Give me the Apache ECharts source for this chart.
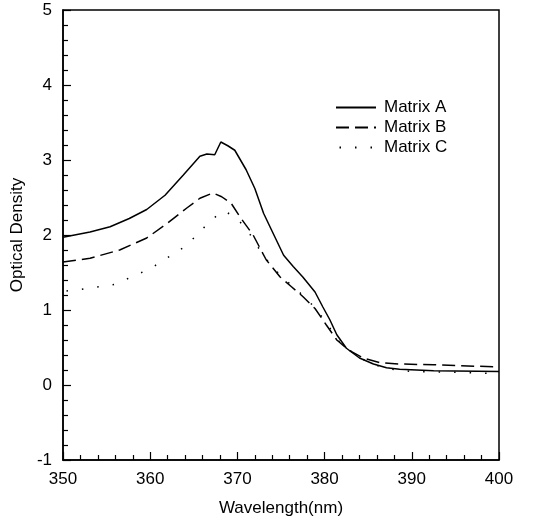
<!DOCTYPE html>
<html>
<head>
<meta charset="utf-8">
<script src="https://cdn.jsdelivr.net/npm/echarts@6/dist/echarts.min.js"></script>
<style>html,body{margin:0;padding:0;background:#fff}#c{width:535px;height:527px}</style>
</head>
<body>
<div id="c"></div>
<script>
const xTicks = [350, 360, 370, 380, 390, 400];
const yTicks = [-1, 0, 1, 2, 3, 4, 5];

const matrixA_x = [350, 353.1, 355.4, 357.6, 359.6, 361.7, 363.8, 365.7, 366.5, 367.4, 368.1, 368.9, 369.7, 371.0, 372.0, 373.0, 373.9, 375.3, 376.4, 377.5, 378.9, 379.8, 380.6, 381.4, 382.5, 384.0, 385.6, 387.1, 388.6, 392.5, 400];
const matrixA_y = [1.97, 2.04, 2.11, 2.22, 2.34, 2.53, 2.80, 3.05, 3.08, 3.07, 3.24, 3.19, 3.13, 2.87, 2.62, 2.29, 2.07, 1.73, 1.58, 1.44, 1.24, 1.04, 0.87, 0.67, 0.49, 0.36, 0.28, 0.23, 0.21, 0.19, 0.18];

const matrixB_x = [350, 353.1, 356.5, 359.6, 361.9, 364.2, 365.7, 367.2, 368.2, 369.3, 370.3, 371.8, 373.3, 374.9, 376.2, 377.5, 378.9, 380.2, 381.4, 382.7, 384.4, 386.3, 388.6, 392.5, 400];
const matrixB_y = [1.64, 1.69, 1.80, 1.96, 2.15, 2.36, 2.49, 2.56, 2.51, 2.42, 2.24, 2.00, 1.67, 1.44, 1.31, 1.18, 1.02, 0.80, 0.60, 0.47, 0.36, 0.30, 0.28, 0.27, 0.24];

const matrixC_x = [350, 351.7, 355.9, 360, 363.9, 365.1, 366.0, 367.2, 368.5, 370.0, 371.5, 373.0, 375.0, 377.0, 379.0, 380.5, 381.5, 383.0, 385.0, 387.0, 390.0, 395.0, 400];
const matrixC_y = [1.25, 1.27, 1.34, 1.55, 1.84, 1.97, 2.08, 2.22, 2.32, 2.22, 2.00, 1.72, 1.45, 1.25, 1.02, 0.78, 0.60, 0.45, 0.30, 0.22, 0.18, 0.17, 0.15];

const zip = (xs, ys) => xs.map((x, i) => [x, ys[i]]);

const chart = echarts.init(document.getElementById('c'), null, {renderer: 'canvas'});
const font = 'Liberation Sans, Arial, sans-serif';
chart.setOption({
  animation: false,
  backgroundColor: '#fff',
  grid: {left: 63, right: 36, top: 10, bottom: 67, show: true, borderColor: '#000', borderWidth: 1.5, backgroundColor: 'transparent'},
  legend: {
    orient: 'vertical', left: 330, top: 94, itemWidth: 40, itemHeight: 10, itemGap: 3,
    itemStyle: {opacity: 0, borderWidth: 0},
    textStyle: {fontFamily: font, fontSize: 17, color: '#000', padding: [0, 0, 0, 3]},
    data: ['Matrix A', 'Matrix B', 'Matrix C']
  },
  xAxis: {
    type: 'value', min: xTicks[0], max: xTicks[xTicks.length - 1], interval: 10,
    name: 'Wavelength(nm)', nameLocation: 'middle', nameGap: 40,
    nameTextStyle: {fontFamily: font, fontSize: 17, color: '#000'},
    axisLine: {onZero: false, lineStyle: {color: '#000', width: 1.5}},
    axisTick: {inside: true, length: 8, lineStyle: {color: '#000', width: 1.2}},
    minorTick: {show: true, splitNumber: 5, length: 5, lineStyle: {color: '#000', width: 1.2}},
    axisLabel: {fontFamily: font, fontSize: 17, color: '#000', margin: 11},
    splitLine: {show: false}
  },
  yAxis: {
    type: 'value', min: yTicks[0], max: yTicks[yTicks.length - 1], interval: 1,
    name: 'Optical Density', nameLocation: 'middle', nameGap: 34,
    nameTextStyle: {fontFamily: font, fontSize: 17, color: '#000'},
    axisLine: {show: true, onZero: false, lineStyle: {color: '#000', width: 1.5}},
    axisTick: {show: true, inside: true, length: 8, lineStyle: {color: '#000', width: 1.2}},
    minorTick: {show: true, splitNumber: 5, length: 5, lineStyle: {color: '#000', width: 1.2}},
    axisLabel: {fontFamily: font, fontSize: 17, color: '#000', margin: 11},
    splitLine: {show: false}
  },
  series: [
    {name: 'Matrix A', type: 'line', data: zip(matrixA_x, matrixA_y), showSymbol: false, symbol: 'none',
     lineStyle: {color: '#000', width: 1.5, type: 'solid'}, itemStyle: {color: '#000'}},
    {name: 'Matrix B', type: 'line', data: zip(matrixB_x, matrixB_y), showSymbol: false, symbol: 'none',
     lineStyle: {color: '#000', width: 1.5, type: [13, 6]}, itemStyle: {color: '#000'}},
    {name: 'Matrix C', type: 'line', data: zip(matrixC_x, matrixC_y), showSymbol: false, symbol: 'none',
     lineStyle: {color: '#000', width: 1.5, type: [1.5, 14], dashOffset: -19}, itemStyle: {color: '#000'}}
  ]
});
</script>
</body>
</html>
